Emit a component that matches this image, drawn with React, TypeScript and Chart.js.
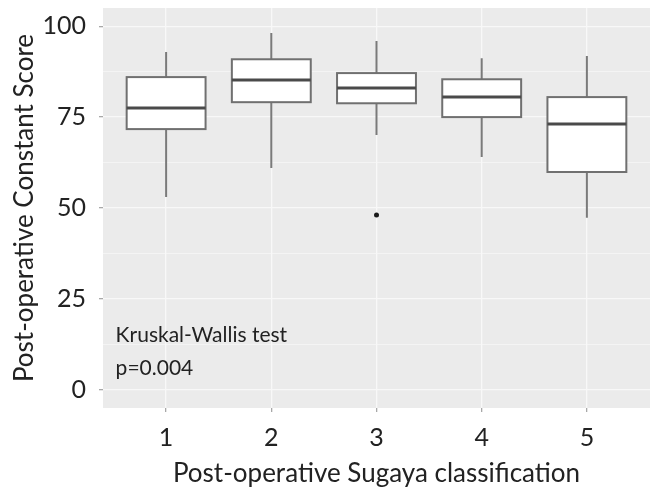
import React, { useEffect, useRef } from 'react';
import { Chart, registerables } from 'chart.js';

Chart.register(...registerables);

// ---- data ----
const categories = [1, 2, 3, 4, 5];
const tickLabels = ['1', '2', '3', '4', '5'];
const whiskerLow = [53.0, 61.0, 70.1, 64.0, 47.3];
const q1 = [71.7, 79.1, 78.8, 75.0, 59.9];
const median = [77.5, 85.2, 83.0, 80.5, 73.1];
const q3 = [86.0, 90.9, 87.1, 85.4, 80.5];
const whiskerHigh = [92.9, 98.1, 95.9, 91.2, 91.8];
const outlierX = [3];
const outlierY = [48.1];
const yTicks = [0, 25, 50, 75, 100];
const yMinorTicks = [12.5, 37.5, 62.5, 87.5];
const annotationLines = ['Kruskal-Wallis test', 'p=0.004'];
const annotationX = 0.52;
const annotationY = 10.5;

const FONT = 'Lato, "Liberation Sans", sans-serif';
const TEXT = '#222222';
const BOX_WIDTH = 0.75;

const boxPlugin = {
  id: 'boxPlugin',
  beforeDraw(chart: any) {
    const { ctx, chartArea: a } = chart;
    ctx.save();
    ctx.fillStyle = '#EBEBEB';
    ctx.fillRect(a.left, a.top, a.right - a.left, a.bottom - a.top);
    ctx.restore();
  },
  beforeDatasetsDraw(chart: any) {
    const { ctx } = chart;
    const xs = chart.scales.x;
    const ys = chart.scales.y;
    ctx.save();
    categories.forEach((c, i) => {
      const xc = xs.getPixelForValue(c);
      const xl = xs.getPixelForValue(c - BOX_WIDTH / 2);
      const xr = xs.getPixelForValue(c + BOX_WIDTH / 2);
      const yLo = ys.getPixelForValue(whiskerLow[i]);
      const yQ1 = ys.getPixelForValue(q1[i]);
      const yMed = ys.getPixelForValue(median[i]);
      const yQ3 = ys.getPixelForValue(q3[i]);
      const yHi = ys.getPixelForValue(whiskerHigh[i]);
      ctx.strokeStyle = '#7A7A7A';
      ctx.lineWidth = 2;
      ctx.beginPath();
      ctx.moveTo(xc, yHi);
      ctx.lineTo(xc, yQ3);
      ctx.moveTo(xc, yQ1);
      ctx.lineTo(xc, yLo);
      ctx.stroke();
      ctx.fillStyle = '#FFFFFF';
      ctx.fillRect(xl, yQ3, xr - xl, yQ1 - yQ3);
      ctx.strokeStyle = '#707070';
      ctx.lineWidth = 2;
      ctx.strokeRect(xl, yQ3, xr - xl, yQ1 - yQ3);
      ctx.strokeStyle = '#4A4A4A';
      ctx.lineWidth = 3;
      ctx.beginPath();
      ctx.moveTo(xl, yMed);
      ctx.lineTo(xr, yMed);
      ctx.stroke();
    });
    ctx.restore();
  },
  afterDraw(chart: any) {
    const { ctx } = chart;
    const xs = chart.scales.x;
    const ys = chart.scales.y;
    const x = xs.getPixelForValue(annotationX);
    const yc = ys.getPixelForValue(annotationY);
    const lh = 33;
    ctx.save();
    ctx.font = `21px ${FONT}`;
    ctx.fillStyle = TEXT;
    ctx.textAlign = 'left';
    ctx.textBaseline = 'middle';
    annotationLines.forEach((t, i) => {
      const y = yc + (i - (annotationLines.length - 1) / 2) * lh;
      ctx.fillText(t, x, y);
    });
    ctx.restore();
  },
};

export default function App() {
  const ref = useRef<HTMLCanvasElement | null>(null);
  useEffect(() => {
    if (!ref.current) return;
    const allY = [...yTicks, ...yMinorTicks].sort((a, b) => a - b);
    const chart = new Chart(ref.current, {
      type: 'scatter',
      data: {
        datasets: [
          {
            label: 'outliers',
            data: outlierX.map((x, i) => ({ x, y: outlierY[i] })),
            pointRadius: 2.5,
            pointBackgroundColor: '#1A1A1A',
            pointBorderWidth: 0,
            borderWidth: 0,
          },
        ],
      },
      options: {
        animation: false,
        responsive: false,
        devicePixelRatio: 1,
        layout: { autoPadding: false, padding: { top: 8, right: 0, left: 0, bottom: 0 } },
        plugins: { legend: { display: false }, tooltip: { enabled: false } },
        scales: {
          x: {
            type: 'linear',
            min: 0.4,
            max: 5.6,
            afterBuildTicks: (s: any) => {
              s.ticks = categories.map((v) => ({ value: v }));
            },
            ticks: {
              autoSkip: false,
              maxRotation: 0,
              padding: 11,
              color: TEXT,
              font: { family: FONT, size: 25 },
              callback: (_v: any, i: number) => tickLabels[i],
            },
            grid: { color: '#F8F8F8', lineWidth: 1.3, tickColor: '#A8A8A8', tickLength: 4 },
            border: { display: false },
            title: {
              display: true,
              text: 'Post-operative Sugaya classification',
              color: TEXT,
              font: { family: FONT, size: 26, lineHeight: 1 },
              padding: { top: 0, bottom: 0 },
            },
            afterFit: (s: any) => {
              s.height = 79;
              s.paddingLeft = 0;
              s.paddingRight = 0;
              s.paddingTop = 0;
              s.paddingBottom = 0;
            },
          },
          y: {
            type: 'linear',
            min: -5,
            max: 105,
            afterBuildTicks: (s: any) => {
              s.ticks = allY.map((v) => ({ value: v }));
            },
            ticks: {
              autoSkip: false,
              padding: 13,
              color: TEXT,
              font: { family: FONT, size: 25 },
              callback: (v: any) => (yTicks.includes(v) ? String(v) : ''),
            },
            grid: {
              color: '#F8F8F8',
              lineWidth: (ctx: any) => (ctx.tick && yTicks.includes(ctx.tick.value) ? 1.3 : 0.7),
              tickColor: (ctx: any) => (ctx.tick && yTicks.includes(ctx.tick.value) ? '#A8A8A8' : 'rgba(0,0,0,0)'),
              tickLength: 4,
            },
            border: { display: false },
            title: {
              display: true,
              text: 'Post-operative Constant Score',
              color: TEXT,
              font: { family: FONT, size: 26, lineHeight: 1.2 },
              padding: { top: 9, bottom: 0 },
            },
            afterFit: (s: any) => {
              s.width = 103;
              s.paddingLeft = 0;
              s.paddingRight = 0;
              s.paddingTop = 0;
              s.paddingBottom = 0;
            },
          },
        },
      },
      plugins: [boxPlugin],
    });
    return () => chart.destroy();
  }, []);
  return (
    <div style={{ position: 'absolute', left: 0, top: 0, width: 650, height: 487, background: '#FFFFFF' }}>
      <canvas ref={ref} width={650} height={487} />
    </div>
  );
}
